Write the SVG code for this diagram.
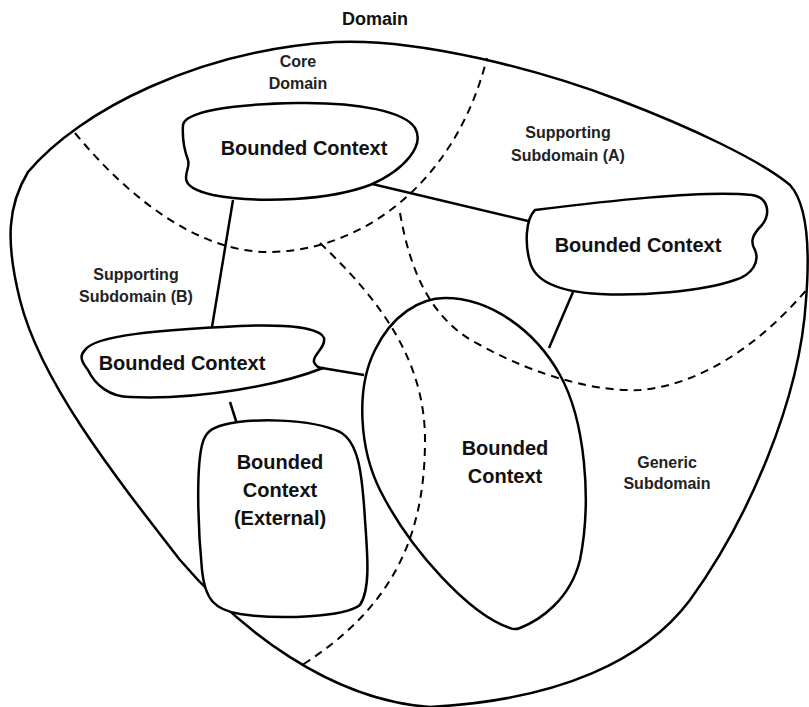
<svg xmlns="http://www.w3.org/2000/svg" width="809" height="707" viewBox="0 0 809 707">
  <style>
    .shape { fill: #fff; stroke: #000; stroke-width: 2.5; stroke-linejoin: round; }
    .outer { fill: #fff; stroke: #000; stroke-width: 2.5; }
    .dash { fill: none; stroke: #000; stroke-width: 2; stroke-dasharray: 8 6; }
    .link { fill: none; stroke: #000; stroke-width: 2.5; }
    .big { font-family: "Liberation Sans", Arial, sans-serif; font-size: 20px; font-weight: bold; fill: #111; text-anchor: middle; }
    .small { font-family: "Liberation Sans", Arial, sans-serif; font-size: 16px; font-weight: bold; fill: #222; text-anchor: middle; }
    .title { font-family: "Liberation Sans", Arial, sans-serif; font-size: 18px; font-weight: bold; fill: #111; text-anchor: middle; }
  </style>
  <rect width="809" height="707" fill="#fff"/>

  <g id="domain">
    <text class="title" x="375" y="25">Domain</text>
    <path class="outer" d="M 335,42 C 420,38 540,70 619,100 C 690,127 760,160 790,185 C 808,205 810,250 806,300 C 800,400 748,520 690,600 C 645,660 560,700 430,707 C 330,700 240,630 180,560 C 110,470 40,380 20,300 C 5,240 8,205 28,172 C 80,110 200,50 335,42 Z"/>
  </g>

  <g id="subdomain-boundaries">
    <path class="dash" d="M 75,133 C 130,200 200,252 268,252 C 360,252 455,185 487,58"/>
    <path class="dash" d="M 400,213 C 410,270 430,320 480,345 C 540,378 600,392 640,390 C 700,385 760,345 808,288"/>
    <path class="dash" d="M 320,243 C 380,300 425,360 425,440 C 425,540 390,610 299,667"/>
  </g>

  <g id="subdomain-labels">
    <g id="label-core">
      <text class="small" x="298" y="67">Core</text>
      <text class="small" x="298" y="89">Domain</text>
    </g>
    <g id="label-supporting-a">
      <text class="small" x="568" y="138">Supporting</text>
      <text class="small" x="568" y="161">Subdomain (A)</text>
    </g>
    <g id="label-supporting-b">
      <text class="small" x="136" y="280">Supporting</text>
      <text class="small" x="136" y="302">Subdomain (B)</text>
    </g>
    <g id="label-generic">
      <text class="small" x="667" y="468">Generic</text>
      <text class="small" x="667" y="489">Subdomain</text>
    </g>
  </g>

  <g id="connectors">
    <line class="link" x1="233" y1="200" x2="212" y2="327"/>
    <line class="link" x1="368" y1="183" x2="528" y2="221"/>
    <line class="link" x1="573" y1="292" x2="549" y2="348"/>
    <line class="link" x1="322" y1="368" x2="364" y2="375"/>
    <line class="link" x1="230" y1="402" x2="237" y2="424"/>
  </g>

  <g id="bc-core">
    <path class="shape" d="M 183,125 C 185,112 230,104 297,103 C 360,102 405,112 415,128 C 425,145 405,170 370,185 C 330,200 260,204 213,195 C 195,191 186,185 186,178 C 186,170 190,166 188,160 C 185,152 182,140 183,125 Z"/>
    <text class="big" x="304" y="155">Bounded Context</text>
  </g>

  <g id="bc-supporting-a">
    <path class="shape" d="M 535,210 C 600,202 700,190 752,195 C 770,198 770,215 762,225 C 752,235 750,242 755,250 C 760,262 752,275 735,280 C 700,292 640,296 600,294 C 560,292 535,282 530,262 C 525,245 525,220 535,210 Z"/>
    <text class="big" x="638" y="252">Bounded Context</text>
  </g>

  <g id="bc-supporting-b">
    <path class="shape" d="M 85,350 C 95,335 160,330 240,326 C 290,324 320,328 324,338 C 326,348 312,355 314,362 C 316,367 320,368 323,368 C 280,385 200,400 130,397 C 110,397 95,385 88,370 C 80,360 80,355 85,350 Z"/>
    <text class="big" x="182" y="370">Bounded Context</text>
  </g>

  <g id="bc-external">
    <path class="shape" d="M 223,425 C 250,418 310,418 340,432 C 358,442 362,470 365,520 C 368,560 370,590 360,605 C 345,617 280,620 240,614 C 215,610 205,600 202,570 C 198,530 196,470 202,445 C 205,432 212,428 223,425 Z"/>
    <text class="big" x="280" y="469">Bounded</text>
    <text class="big" x="280" y="497">Context</text>
    <text class="big" x="280" y="525">(External)</text>
  </g>

  <g id="bc-generic">
    <path class="shape" fill-opacity="0" d="M 510,628 C 470,615 410,550 380,490 C 360,450 355,390 375,350 C 392,315 420,298 445,298 C 490,298 535,330 560,375 C 585,420 592,500 580,560 C 570,600 540,620 520,628 C 515,630 512,629 510,628 Z"/>
    <text class="big" x="505" y="455">Bounded</text>
    <text class="big" x="505" y="483">Context</text>
  </g>
</svg>
